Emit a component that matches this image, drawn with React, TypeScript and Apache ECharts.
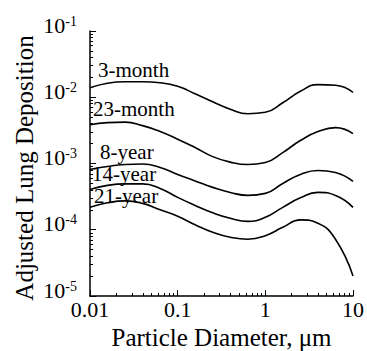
import React, { useEffect, useRef } from 'react';
import * as echarts from 'echarts';

const FONT = 'Liberation Serif';

const diameters = [0.01, 0.0158, 0.0251, 0.0398, 0.0631, 0.1, 0.158, 0.251, 0.398, 0.631, 1, 1.58, 2.51, 3.98, 6.31, 10];
const month3 = [0.0139, 0.01626, 0.0171, 0.0171, 0.01652, 0.01462, 0.0113, 0.00855, 0.0066, 0.00565, 0.00594, 0.00826, 0.0123, 0.0155, 0.0152, 0.01189];
const month23 = [0.00385, 0.00414, 0.00421, 0.00373, 0.00303, 0.00233, 0.00174, 0.00127, 0.00105, 0.000966, 0.001035, 0.001462, 0.00222, 0.00303, 0.00348, 0.00282];
const year8 = [0.000813, 0.000902, 0.000966, 0.000982, 0.000871, 0.000684, 0.000546, 0.000436, 0.000366, 0.00033, 0.000354, 0.0005, 0.000684, 0.000785, 0.000732, 0.000536];
const year14 = [0.000406, 0.000467, 0.000492, 0.000492, 0.000421, 0.000308, 0.000233, 0.00018, 0.000149, 0.000134, 0.000154, 0.000218, 0.000303, 0.000366, 0.00033, 0.000218];
const year21 = [0.000218, 0.000255, 0.000273, 0.00025, 0.0002, 0.00016, 0.000119, 0.0000916, 0.0000771, 0.000072, 0.0000813, 0.000109, 0.000141, 0.000125, 0.000072, 0.00002];

const seriesNames = ['3-month', '23-month', '8-year', '14-year', '21-year'];
const seriesValues = [month3, month23, year8, year14, year21];

const xDecades = [0.01, 0.1, 1];
const yDecades = [1e-5, 1e-4, 1e-3, 1e-2];
const minorMultipliers = [2, 3, 4, 5, 6, 7, 8, 9];

const xMinor = xDecades.flatMap((d) => minorMultipliers.map((m) => +(d * m).toPrecision(6)));
const yMinor = yDecades.flatMap((d) => minorMultipliers.map((m) => +(d * m).toPrecision(6)));

const xTitle = 'Particle Diameter, \u03bcm';
const yTitle = 'Adjusted Lung Deposition';

// label positions (pixels): [left, vertical middle]
const labelPos: [number, number][] = [
  [98, 70],
  [93, 109],
  [100, 152],
  [92, 174],
  [94, 196],
];

export default function App() {
  const ref = useRef<HTMLDivElement>(null);
  useEffect(() => {
    if (!ref.current) return;
    const chart = echarts.init(ref.current, undefined, { renderer: 'svg' });
    const axisLineStyle = { color: '#000', width: 1.5 };
    chart.setOption({
      animation: false,
      backgroundColor: '#fff',
      grid: { left: 90, right: 14, top: 31, bottom: 55, containLabel: false, outerBoundsMode: 'none' },
      xAxis: [
        {
          type: 'log',
          logBase: 10,
          min: 0.01,
          max: 10,
          axisLine: { lineStyle: axisLineStyle },
          axisTick: { inside: true, length: 6, lineStyle: { color: '#000', width: 1 } },
          axisLabel: {
            color: '#000',
            fontSize: 22,
            fontFamily: FONT,
            margin: 2,
            formatter: (v: number) => String(+v.toPrecision(3)),
          },
          splitLine: { show: false },
          minorTick: { show: false },
          name: xTitle,
          nameLocation: 'middle',
          nameGap: 29,
          nameTextStyle: { color: '#000', fontSize: 25, fontFamily: FONT },
        },
        {
          type: 'log',
          logBase: 10,
          min: 0.01,
          max: 10,
          position: 'bottom',
          axisLine: { show: false },
          axisTick: { inside: true, length: 3, customValues: xMinor, lineStyle: { color: '#000', width: 1 } },
          axisLabel: { show: false },
          splitLine: { show: false },
        },
      ],
      yAxis: [
        {
          type: 'log',
          logBase: 10,
          min: 1e-5,
          max: 0.1,
          axisLine: { show: true, lineStyle: axisLineStyle },
          axisTick: { show: true, inside: true, length: 6, lineStyle: { color: '#000', width: 1 } },
          axisLabel: {
            color: '#000',
            margin: 13,
            padding: [0, 0, 12, 0],
            formatter: (v: number) => '{a|10}{b|' + Math.round(Math.log10(v)) + '}',
            rich: {
              a: { fontSize: 22, fontFamily: FONT, color: '#000', lineHeight: 22, verticalAlign: 'bottom' },
              b: { fontSize: 14, fontFamily: FONT, color: '#000', lineHeight: 22, verticalAlign: 'top', padding: [0, 0, 10, 0] },
            },
          },
          splitLine: { show: false },
        },
        {
          type: 'log',
          logBase: 10,
          min: 1e-5,
          max: 0.1,
          position: 'left',
          axisLine: { show: false },
          axisTick: { show: true, inside: true, length: 3, customValues: yMinor, lineStyle: { color: '#000', width: 1 } },
          axisLabel: { show: false },
          splitLine: { show: false },
        },
      ],
      series: seriesValues.map((vals, i) => ({
        name: seriesNames[i],
        type: 'line',
        xAxisIndex: 0,
        yAxisIndex: 0,
        smooth: 0.5,
        symbol: 'none',
        lineStyle: { color: '#000', width: 1.6 },
        data: diameters.map((d, j) => [d, vals[j]]),
      })),
      graphic: [
        ...seriesNames.map((n, i) => ({
          type: 'text',
          x: labelPos[i][0],
          y: labelPos[i][1],
          z: 10,
          style: { text: n, fill: '#000', fontSize: 21, fontFamily: FONT, verticalAlign: 'middle', align: 'left' },
        })),
        {
          type: 'text',
          x: 24,
          y: 168,
          rotation: Math.PI / 2,
          style: { text: yTitle, fill: '#000', fontSize: 25, fontFamily: FONT, align: 'center', verticalAlign: 'middle' },
        },
      ],
    });
    return () => chart.dispose();
  }, []);
  return <div ref={ref} style={{ position: 'fixed', left: 0, top: 0, width: 367, height: 351, background: '#fff' }} />;
}
